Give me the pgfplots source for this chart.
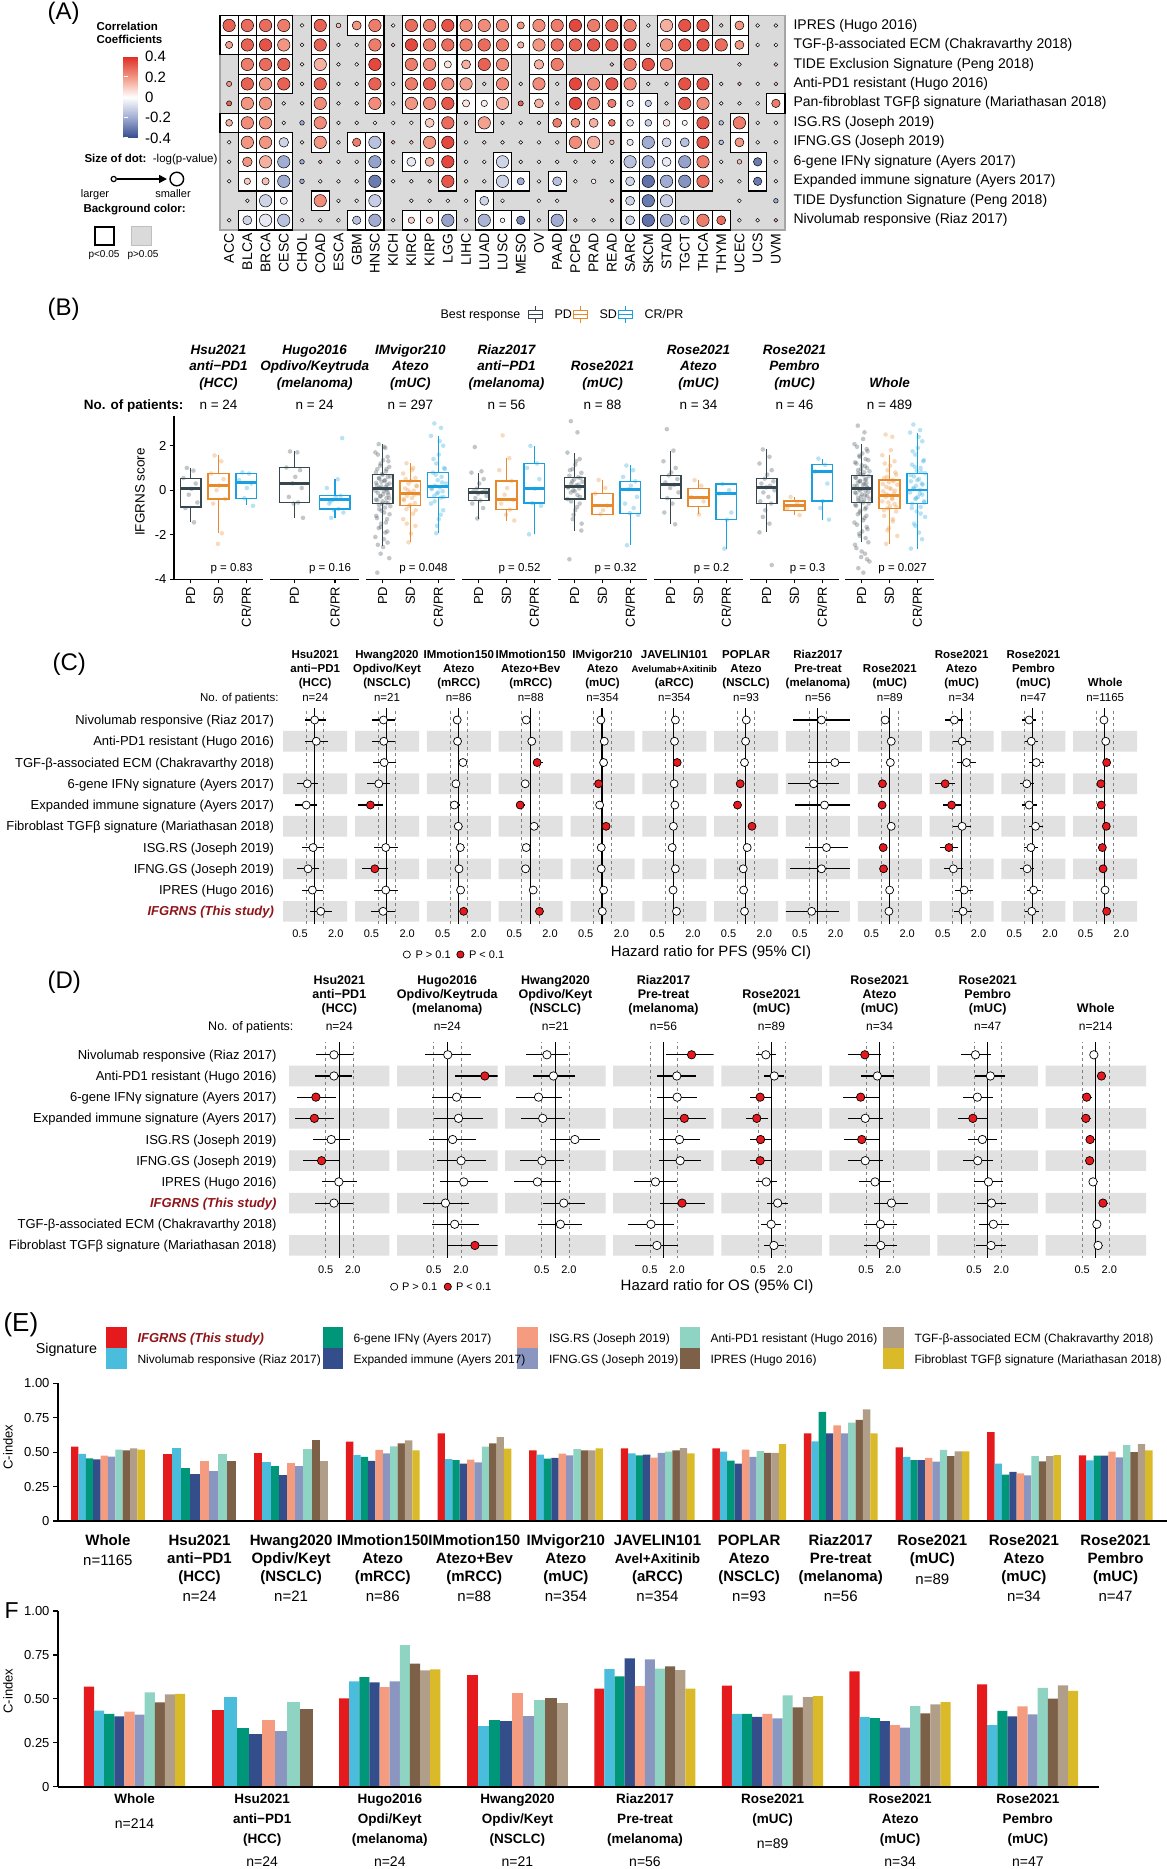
\documentclass[border=0pt]{standalone}
\usepackage{fontspec}
\setmainfont{Liberation Sans}
\usepackage{pgfplots}
\usepackage{pgfplotstable}
\pgfplotsset{compat=1.18}
\usepgfplotslibrary{statistics}
\usetikzlibrary{arrows.meta}

\definecolor{hmgray}{RGB}{218,218,218}
\definecolor{hmborder}{RGB}{165,165,165}
\definecolor{pdc}{RGB}{55,71,79}
\definecolor{sdc}{RGB}{232,137,44}
\definecolor{crc}{RGB}{26,160,222}
\definecolor{band}{RGB}{225,225,225}
\definecolor{hrred}{RGB}{230,25,30}
\definecolor{dred}{RGB}{145,20,25}
\definecolor{cA}{RGB}{228,26,28}
\definecolor{cB}{RGB}{74,188,220}
\definecolor{cC}{RGB}{0,150,122}
\definecolor{cD}{RGB}{52,78,140}
\definecolor{cE}{RGB}{245,156,128}
\definecolor{cF}{RGB}{138,150,192}
\definecolor{cG}{RGB}{143,212,194}
\definecolor{cH}{RGB}{125,96,72}
\definecolor{cI}{RGB}{176,158,136}
\definecolor{cJ}{RGB}{218,186,40}

\newcommand\fs[2]{\fontsize{#1}{#2}\selectfont}

\pgfplotsset{
  bfacet/.style={anchor=south west, scale only axis, width=89pt, height=163.7pt,
    ymin=-4, ymax=3.35, axis x line*=bottom,
    axis line style={line width=1.2pt}, tick align=outside, major tick length=4pt,
    tick style={line width=1.2pt, black},
    xticklabel style={rotate=90, anchor=east, font=\fs{13}{15}},
    clip=false, axis on top},
  bfirst/.style={bfacet, axis y line*=left, ytick={-4,-2,0,2}, yticklabels={-4,-2,0,2},
    yticklabel style={font=\fs{13}{15}}},
  bother/.style={bfacet, axis y line=none, ytick=\empty},
  cfacet/.style={anchor=south west, scale only axis, width=64pt, height=214.7pt,
    xmin=-1.76, xmax=1.82, ymin=0.45, ymax=10.55, y dir=reverse,
    axis line style={draw=none}, major tick length=0pt, ytick=\empty,
    xticklabels={0.5,2.0}, xticklabel style={font=\fs{11}{13}, yshift=-3pt}},
  dfacet/.style={anchor=south west, scale only axis, width=100.5pt, height=214.8pt,
    xmin=-3.7, xmax=3.7, ymin=0.43, ymax=10.57, y dir=reverse,
    axis line style={draw=none}, major tick length=0pt, ytick=\empty,
    xtick={-1,1}, xticklabels={0.5,2.0}, xticklabel style={font=\fs{11}{13}, yshift=-5pt}},
  hrmark/.style={scatter, only marks, mark=*, mark size=#1,
    scatter src=explicit symbolic,
    scatter/classes={w={draw=black, fill=white}, r={draw=black, fill=hrred}},
    mark options={line width=0.7pt},
    error bars/x dir=both, error bars/x explicit, error bars/error mark=none,
    error bars/error bar style={black, line width=1.1pt}},
}

% box plot from its five numbers
\newcommand\Bbox[7]{\addplot[draw=#1, line width=1.3pt, solid,
  boxplot prepared={draw direction=y, draw position=#2, lower whisker=#3, lower quartile=#4,
  median=#5, upper quartile=#6, upper whisker=#7, box extend=0.75,
  whisker extend=0, every median/.style={line width=2.8pt}}] coordinates {};}
\newcommand\Bpts[2]{\addplot[only marks, mark=*, mark size=2.3pt,
  mark options={fill=#1, fill opacity=0.3, draw opacity=0}] coordinates {#2};}
\newcommand\Hdr[7]{\node[anchor=base,font=#4] at (#1,-#2) {#5};
  \node[anchor=base,font=#4] at (#1,{-#2-#3}) {#6};
  \node[anchor=base,font=#4] at (#1,{-#2-2*#3}) {#7};}
\newcommand\Cfac[3]{%
\begin{axis}[cfacet, at={(#1pt,-923pt)}, xtick={#2}]
\addplot[xbar, bar width=0.97, bar shift=0pt, fill=band, draw=none] coordinates
  {(9,2) (9,4) (9,6) (9,8) (9,10) (-9,2) (-9,4) (-9,6) (-9,8) (-9,10)};
\addplot[gray, dashed, line width=0.6pt] coordinates {(-0.47,0) (-0.47,11)};
\addplot[gray, dashed, line width=0.6pt] coordinates {(0.51,0) (0.51,11)};
\addplot[black, line width=1.1pt] coordinates {(0,0) (0,11)};
\addplot[hrmark=4pt] table[row sep=\\, x=x, y=r, meta=p,
  x error plus expr=\thisrow{hi}-\thisrow{x},
  x error minus expr=\thisrow{x}-\thisrow{lo}] {#3};
\end{axis}}
\newcommand\Dfac[2]{%
\begin{axis}[dfacet, at={(#1pt,-1257.5pt)}]
\addplot[xbar, bar width=0.97, bar shift=0pt, fill=band, draw=none] coordinates
  {(9,2) (9,4) (9,6) (9,8) (9,10) (-9,2) (-9,4) (-9,6) (-9,8) (-9,10)};
\addplot[gray, dashed, line width=0.6pt] coordinates {(-1,0) (-1,11)};
\addplot[gray, dashed, line width=0.6pt] coordinates {(1,0) (1,11)};
\addplot[black, line width=1.1pt] coordinates {(0,0) (0,11)};
\addplot[hrmark=4.2pt] table[row sep=\\, x=x, y=r, meta=p,
  x error plus expr=\thisrow{hi}-\thisrow{x},
  x error minus expr=\thisrow{x}-\thisrow{lo}] {#2};
\end{axis}}
\newcommand\Bars[3]{\addplot[ybar, bar width=#1, bar shift=0pt, fill=#2, draw=none] coordinates {#3};}
\newcommand\Tb[3]{\node[anchor=base,font=\bfseries\fs{15}{17}] at (#1,-#2) {#3};}
\newcommand\Tn[3]{\node[anchor=base,font=\fs{15}{17}] at (#1,-#2) {#3};}
\newcommand\Fb[3]{\node[anchor=base,font=\bfseries\fs{13.5}{16}] at (#1,-#2) {#3};}
\newcommand\Fn[3]{\node[anchor=base,font=\fs{14}{16}] at (#1,-#2) {#3};}

% correlation of each signature with each cancer type: c r value dotsize box(p<0.05)
\pgfplotstableread[row sep=\\]{
c r v s b\\
1 11 0.30 6.2 1\\ 2 11 0.28 6.2 1\\ 3 11 0.28 6.2 1\\ 4 11 0.25 6.2 1\\ 5 11 0.02 1.9 0\\ 6 11 0.30 6.2 1\\ 7 11 0.12 2.3 0\\ 8 11 0.20 4.5 1\\ 9 11 0.25 6.2 1\\ 10 11 0.02 1.9 0\\
11 11 0.28 6.2 1\\ 12 11 0.25 6.2 1\\ 13 11 0.33 6.2 1\\ 14 11 0.22 6.2 1\\ 15 11 0.22 6.2 1\\ 16 11 0.22 6.2 1\\ 17 11 0.20 3.6 1\\ 18 11 0.22 6.2 1\\ 19 11 0.25 6.2 1\\ 20 11 0.35 6.2 1\\
21 11 0.25 6.2 1\\ 22 11 0.30 6.2 1\\ 23 11 0.25 6.2 1\\ 24 11 0.02 1.9 0\\ 25 11 0.15 6.2 1\\ 26 11 0.33 6.2 1\\ 27 11 0.33 6.2 1\\ 28 11 0.08 1.9 0\\ 29 11 0.20 4.5 1\\ 30 11 0.03 1.9 0\\ 31 11 0.03 1.9 0\\
1 10 0.18 3.6 1\\ 2 10 0.30 6.2 1\\ 3 10 0.33 6.2 1\\ 4 10 0.20 6.2 1\\ 5 10 0.02 1.9 0\\ 6 10 0.30 6.2 1\\ 7 10 0.03 1.9 0\\ 8 10 0.03 1.9 0\\ 9 10 0.25 6.2 1\\ 10 10 0.10 1.9 0\\
11 10 0.35 6.2 1\\ 12 10 0.25 6.2 1\\ 13 10 0.28 6.2 1\\ 14 10 0.25 6.2 1\\ 15 10 0.28 6.2 1\\ 16 10 0.25 6.2 1\\ 17 10 0.15 3.2 1\\ 18 10 0.20 6.2 1\\ 19 10 0.28 6.2 1\\ 20 10 0.30 6.2 1\\
21 10 0.32 6.2 1\\ 22 10 0.30 6.2 1\\ 23 10 0.30 6.2 1\\ 24 10 0.02 1.9 0\\ 25 10 0.20 6.2 1\\ 26 10 0.33 6.2 1\\ 27 10 0.33 6.2 1\\ 28 10 0.28 6.2 1\\ 29 10 0.20 4.5 1\\ 30 10 0.02 1.9 0\\ 31 10 0.02 1.9 0\\
2 9 0.25 6.2 1\\ 3 9 0.28 6.2 1\\ 4 9 0.30 6.2 1\\ 5 9 0.02 1.9 0\\ 6 9 0.15 6.2 1\\ 7 9 0.02 1.9 0\\ 8 9 0.02 1.9 0\\ 9 9 0.35 6.2 1\\
11 9 0.25 6.2 1\\ 12 9 0.22 6.2 1\\ 13 9 0.05 3.6 1\\ 14 9 0.15 4.5 1\\ 15 9 0.30 6.2 1\\ 16 9 0.22 6.2 1\\ 18 9 0.15 4.8 1\\ 19 9 0.25 6.2 1\\
22 9 0.12 1.9 0\\ 23 9 0.25 6.2 1\\ 24 9 0.33 6.2 1\\ 25 9 0.22 6.2 1\\ 29 9 0.05 1.9 0\\ 31 9 0.12 1.9 0\\
1 8 0.20 2.6 0\\ 2 8 0.30 6.2 1\\ 3 8 0.20 6.2 1\\ 4 8 0.30 6.2 1\\ 5 8 0.02 1.9 0\\ 6 8 0.30 6.2 1\\ 7 8 0.02 1.9 0\\ 8 8 0.02 1.9 0\\ 9 8 0.30 6.2 1\\ 10 8 0.02 1.9 0\\
11 8 0.25 6.2 1\\ 12 8 0.30 6.2 1\\ 13 8 0.22 6.2 1\\ 14 8 0.18 6.2 1\\ 15 8 0.03 1.9 0\\ 16 8 0.22 6.2 1\\ 17 8 0.03 1.9 0\\ 18 8 0.22 6.2 1\\ 19 8 0.03 1.9 0\\ 20 8 0.35 6.2 1\\
21 8 0.22 6.2 1\\ 22 8 0.32 6.2 1\\ 23 8 0.22 6.2 1\\ 24 8 0.02 1.9 0\\ 25 8 0.02 1.9 0\\ 26 8 0.33 6.2 1\\ 27 8 0.33 6.2 1\\ 28 8 0.03 1.9 0\\ 29 8 0.12 1.9 0\\ 30 8 0.02 1.9 0\\ 31 8 0.12 1.9 0\\
1 7 0.30 2.6 0\\ 2 7 0.20 6.2 1\\ 3 7 0.20 6.2 1\\ 4 7 0.02 1.9 0\\ 5 7 0.02 1.9 0\\ 6 7 0.22 6.2 1\\ 7 7 0.02 1.9 0\\ 8 7 0.02 1.9 0\\ 9 7 0.22 6.2 1\\ 10 7 0.02 1.9 0\\
11 7 0.20 6.2 1\\ 12 7 0.22 6.2 1\\ 13 7 0.32 6.2 1\\ 14 7 0.05 3.6 1\\ 15 7 0.03 3.2 1\\ 16 7 0.15 6.2 1\\ 17 7 0.30 2.6 0\\ 18 7 0.15 4.5 1\\ 19 7 0.02 1.9 0\\ 20 7 0.35 6.2 1\\
21 7 0.22 6.2 1\\ 22 7 0.25 4.2 1\\ 23 7 -0.05 3.2 1\\ 24 7 -0.12 3.2 1\\ 25 7 0.03 1.9 0\\ 26 7 0.32 6.2 1\\ 27 7 0.22 6.2 1\\ 28 7 0.02 1.9 0\\ 29 7 0.02 1.9 0\\ 30 7 0.02 1.9 0\\ 31 7 0.25 4.2 1\\
1 6 0.15 3.4 1\\ 2 6 0.22 6.2 1\\ 3 6 0.20 6.2 1\\ 4 6 0.02 1.9 0\\ 5 6 -0.20 2.3 0\\ 6 6 0.22 6.2 1\\ 7 6 0.02 1.9 0\\ 8 6 0.02 1.9 0\\ 9 6 0.02 1.9 0\\ 10 6 0.03 1.9 0\\
11 6 0.02 1.9 0\\ 12 6 0.10 4.5 1\\ 13 6 0.28 6.2 1\\ 14 6 0.02 1.9 0\\ 15 6 0.18 6.2 1\\ 16 6 0.02 1.9 0\\ 17 6 0.02 1.9 0\\ 18 6 0.02 1.9 0\\ 19 6 0.25 4.5 1\\ 20 6 0.20 4.5 1\\
21 6 0.15 4.5 1\\ 22 6 0.25 3.4 1\\ 23 6 -0.05 3.4 1\\ 24 6 -0.12 3.4 1\\ 25 6 0.05 3.4 1\\ 26 6 0.02 2.6 1\\ 27 6 0.32 6.2 1\\ 28 6 -0.15 2.3 0\\ 29 6 0.25 6.2 1\\ 30 6 0.02 1.9 0\\ 31 6 0.02 1.9 0\\
1 5 0.02 1.9 0\\ 2 5 0.20 6.2 1\\ 3 5 0.20 6.2 1\\ 4 5 -0.10 4.8 1\\ 5 5 0.02 1.9 0\\ 6 5 0.20 6.2 1\\ 7 5 0.02 1.9 0\\ 8 5 0.25 4.2 1\\ 9 5 -0.15 6.2 1\\ 10 5 0.12 1.9 0\\
11 5 0.10 1.9 0\\ 12 5 0.20 6.2 1\\ 13 5 0.35 6.2 1\\ 14 5 0.02 1.9 0\\ 15 5 0.02 1.9 0\\ 16 5 0.02 1.9 0\\ 17 5 0.02 1.9 0\\ 18 5 0.02 1.9 0\\ 19 5 0.02 1.9 0\\ 20 5 0.22 6.2 1\\
21 5 0.15 6.2 1\\ 22 5 0.12 2.3 0\\ 23 5 -0.05 3.2 1\\ 24 5 -0.20 6.2 1\\ 25 5 -0.10 4.5 1\\ 26 5 -0.15 4.5 1\\ 27 5 0.33 6.2 1\\ 28 5 -0.15 2.3 0\\ 29 5 0.20 4.5 1\\ 30 5 0.02 1.9 0\\ 31 5 0.02 1.9 0\\
1 4 0.02 1.9 0\\ 2 4 0.20 4.8 1\\ 3 4 0.15 6.2 1\\ 4 4 -0.20 6.2 1\\ 5 4 -0.20 2.3 0\\ 6 4 0.10 1.9 0\\ 7 4 0.02 1.9 0\\ 8 4 0.02 1.9 0\\ 9 4 -0.22 6.2 1\\ 10 4 0.02 1.9 0\\
11 4 -0.05 4.5 1\\ 12 4 0.15 4.5 1\\ 13 4 0.35 6.2 1\\ 14 4 0.02 1.9 0\\ 15 4 0.02 1.9 0\\ 16 4 -0.10 6.2 1\\ 17 4 0.02 1.9 0\\ 18 4 0.02 1.9 0\\ 19 4 0.02 1.9 0\\ 20 4 0.02 1.9 0\\
21 4 0.02 1.9 0\\ 22 4 0.02 1.9 0\\ 23 4 -0.15 6.2 1\\ 24 4 -0.20 6.2 1\\ 25 4 -0.05 4.5 1\\ 26 4 -0.22 6.2 1\\ 27 4 0.25 6.2 1\\ 28 4 0.02 1.9 0\\ 29 4 0.12 2.3 0\\ 30 4 -0.30 4.2 1\\ 31 4 0.02 1.9 0\\
1 3 0.02 1.9 0\\ 2 3 0.10 3.2 1\\ 3 3 0.12 3.6 1\\ 4 3 -0.20 6.2 1\\ 5 3 -0.20 2.3 0\\ 6 3 0.02 1.9 0\\ 7 3 0.02 1.9 0\\ 8 3 0.02 1.9 0\\ 9 3 -0.30 6.2 1\\ 10 3 0.02 1.9 0\\
11 3 0.02 1.9 0\\ 12 3 0.08 1.9 0\\ 13 3 0.32 6.2 1\\ 14 3 0.02 1.9 0\\ 15 3 0.02 1.9 0\\ 16 3 -0.10 6.2 1\\ 17 3 -0.20 3.6 1\\ 18 3 0.02 1.9 0\\ 19 3 -0.15 4.5 1\\ 20 3 0.02 1.9 0\\
21 3 0.03 2.3 0\\ 22 3 0.02 1.9 0\\ 23 3 -0.10 4.5 1\\ 24 3 -0.32 6.2 1\\ 25 3 -0.20 6.2 1\\ 26 3 -0.25 6.2 1\\ 27 3 0.28 6.2 1\\ 28 3 0.02 1.9 0\\ 29 3 0.02 1.9 0\\ 30 3 -0.30 4.2 1\\ 31 3 0.02 1.9 0\\
2 2 0.03 1.9 0\\ 3 2 -0.10 6.2 1\\ 4 2 -0.05 3.6 1\\ 6 2 0.22 6.2 1\\ 7 2 0.02 1.9 0\\ 8 2 0.02 1.9 0\\ 9 2 -0.12 6.2 1\\
11 2 0.02 1.9 0\\ 12 2 0.02 1.9 0\\ 13 2 0.02 1.9 0\\ 14 2 0.02 1.9 0\\ 15 2 -0.10 4.5 1\\ 16 2 0.02 1.9 0\\ 18 2 0.02 1.9 0\\ 19 2 0.02 1.9 0\\
22 2 0.12 1.9 0\\ 23 2 -0.10 4.5 1\\ 24 2 -0.30 6.2 1\\ 25 2 -0.12 6.2 1\\ 29 2 0.02 1.9 0\\ 31 2 -0.20 2.3 0\\
1 1 0.02 1.9 0\\ 2 1 -0.10 4.5 1\\ 3 1 -0.05 6.2 1\\ 4 1 -0.15 6.2 1\\ 5 1 0.02 1.9 0\\ 6 1 0.02 1.9 0\\ 7 1 0.02 1.9 0\\ 8 1 -0.15 4.2 1\\ 9 1 -0.20 6.2 1\\ 10 1 0.02 1.9 0\\
11 1 0.08 3.2 1\\ 12 1 0.08 3.2 1\\ 13 1 -0.22 6.2 1\\ 14 1 0.02 1.9 0\\ 15 1 -0.18 6.2 1\\ 16 1 0.02 2.3 1\\ 17 1 -0.28 4.2 1\\ 18 1 0.02 1.9 0\\ 19 1 -0.20 6.2 1\\ 20 1 0.08 1.9 0\\
21 1 0.02 1.9 0\\ 22 1 0.02 1.9 0\\ 23 1 -0.10 4.5 1\\ 24 1 -0.32 6.2 1\\ 25 1 -0.20 6.2 1\\ 26 1 -0.15 4.5 1\\ 27 1 0.25 6.2 1\\ 28 1 0.28 4.5 1\\ 29 1 0.02 1.9 0\\ 30 1 0.02 1.9 0\\ 31 1 0.12 1.9 0\\
}\heat

\begin{document}
\begin{tikzpicture}[x=1pt,y=1pt]
\useasboundingbox (0,0) rectangle (1167,-1869);

%================ (A) =================
\node[anchor=base west, font=\fs{24}{28}] at (44,-19) {(A)};
\node[anchor=base west, font=\bfseries\fs{11.5}{13}] at (93,-30) {Correlation};
\node[anchor=base west, font=\bfseries\fs{11.5}{13}] at (93,-43) {Coefficients};
\node[anchor=base west, font=\fs{11.5}{13}] at (81,-162) {\textbf{Size of dot:}\ \ -log(p-value)};
\draw[line width=1.6pt, -{Triangle[length=8pt,width=8pt]}] (117,-179) -- (167,-179);
\draw[line width=1.2pt] (113.7,-179) circle (2.6);
\draw[line width=1.4pt] (176.8,-179) circle (6.8);
\node[anchor=base, font=\fs{11}{13}] at (95,-197) {larger};
\node[anchor=base, font=\fs{11}{13}] at (173,-197) {smaller};
\node[anchor=base west, font=\bfseries\fs{11.5}{13}] at (80,-212) {Background color:};
\draw[line width=2pt, fill=white] (95,-227) rectangle (114,-245);
\filldraw[fill=hmgray, draw=black!25] (131,-226) rectangle (151,-245);
\node[anchor=base, font=\fs{10}{12}] at (104,-257) {p<0.05};
\node[anchor=base, font=\fs{10}{12}] at (143,-257) {p>0.05};

\begin{axis}[at={(220pt,-230pt)}, anchor=south west, scale only axis,
  width=565pt, height=214.3pt, xmin=0.5, xmax=31.5, ymin=0.5, ymax=11.5,
  axis background/.style={fill=hmgray},
  axis line style={draw=hmborder, line width=1.5pt}, clip=false,
  xtick={1,...,31},
  xticklabels={ACC,BLCA,BRCA,CESC,CHOL,COAD,ESCA,GBM,HNSC,KICH,KIRC,KIRP,LGG,LIHC,LUAD,LUSC,MESO,OV,PAAD,PCPG,PRAD,READ,SARC,SKCM,STAD,TGCT,THCA,THYM,UCEC,UCS,UVM},
  xticklabel style={rotate=90, anchor=east, font=\fs{14}{16}},
  ytick={1,...,11},
  yticklabels={Nivolumab responsive (Riaz 2017),TIDE Dysfunction Signature (Peng 2018),Expanded immune signature (Ayers 2017),6-gene IFNγ signature (Ayers 2017),IFNG.GS (Joseph 2019),ISG.RS (Joseph 2019),Pan-fibroblast TGFβ signature (Mariathasan 2018),Anti-PD1 resistant (Hugo 2016),TIDE Exclusion Signature (Peng 2018),TGF-β-associated ECM (Chakravarthy 2018),IPRES (Hugo 2016)},
  yticklabel pos=right, yticklabel style={anchor=west, xshift=5pt, font=\fs{14}{16}},
  major tick length=0pt,
  colormap={hm}{rgb255(0cm)=(52,74,140); rgb255(1cm)=(160,172,210); rgb255(2cm)=(255,255,255); rgb255(3cm)=(242,150,130); rgb255(4cm)=(222,45,38)},
  point meta min=-0.4, point meta max=0.4,
  colorbar,
  colorbar style={at={(parent axis.north west)}, anchor=north west,
    xshift=-105pt, yshift=-40.8pt, width=18pt, height=81.5pt,
    ytick={-0.4,-0.2,0,0.2,0.4}, yticklabels={-0.4,-0.2,0,0.2,0.4},
    yticklabel pos=right, yticklabel style={font=\fs{15}{17}, anchor=west, xshift=0pt},
    xtick=\empty, major tick length=4pt, tick align=inside,
    tick style={white, line width=1pt}, axis line style={draw=none}}
]
\addplot[only marks, mark=square*, mark size=9.1pt,
  mark options={fill=white, draw=black, line width=1.1pt, yscale=1.071},
  y filter/.expression={\thisrow{b}>0.5 ? y : nan}] table[x=c, y=r] {\heat};
\addplot[scatter, only marks, mark=*, point meta=explicit,
  scatter/use mapped color={draw=black, fill=mapped color},
  visualization depends on={\thisrow{s} \as \dsz},
  scatter/@pre marker code/.append style={/tikz/mark size=\dsz},
  mark options={line width=0.5pt}] table[x=c, y=r, meta=v] {\heat};
\end{axis}

%================ (B) =================
\node[anchor=base west, font=\fs{24}{28}] at (44,-315) {(B)};
\node[anchor=base west, font=\fs{12.5}{15}] at (437,-318.5) {Best response};
\foreach \cx/\cc in {535.5/pdc, 580.5/sdc, 625.6/crc} {
  \draw[\cc, line width=1.2pt] (\cx,-306) -- (\cx,-310.5) (\cx,-318.5) -- (\cx,-323);
  \draw[\cc, line width=1.2pt, fill=white] ({\cx-7},-310.5) rectangle ({\cx+7},-318.5);
  \draw[\cc, line width=1.2pt] ({\cx-7},-314.5) -- ({\cx+7},-314.5);
}
\node[anchor=base west, font=\fs{12.5}{15}] at (551,-318.5) {PD};
\node[anchor=base west, font=\fs{12.5}{15}] at (596,-318.5) {SD};
\node[anchor=base west, font=\fs{12.5}{15}] at (641,-318.5) {CR/PR};
\Hdr{218.5}{354.5}{16.3}{\bfseries\itshape\fs{13.5}{16}}{Hsu2021}{anti−PD1}{(HCC)}
\Hdr{314.7}{354.5}{16.3}{\bfseries\itshape\fs{13.5}{16}}{Hugo2016}{Opdivo/Keytruda}{(melanoma)}
\Hdr{410.4}{354.5}{16.3}{\bfseries\itshape\fs{13.5}{16}}{IMvigor210}{Atezo}{(mUC)}
\Hdr{506.5}{354.5}{16.3}{\bfseries\itshape\fs{13.5}{16}}{Riaz2017}{anti−PD1}{(melanoma)}
\Hdr{602.5}{354.5}{16.3}{\bfseries\itshape\fs{13.5}{16}}{}{Rose2021}{(mUC)}
\Hdr{698.5}{354.5}{16.3}{\bfseries\itshape\fs{13.5}{16}}{Rose2021}{Atezo}{(mUC)}
\Hdr{794.5}{354.5}{16.3}{\bfseries\itshape\fs{13.5}{16}}{Rose2021}{Pembro}{(mUC)}
\Hdr{889.5}{354.5}{16.3}{\bfseries\itshape\fs{13.5}{16}}{}{}{Whole}
\node[anchor=base east, font=\bfseries\fs{13.5}{16}] at (187,-409.5) {No. of patients:};
\foreach \cx/\nn in {218.5/24, 314.7/24, 410.4/297, 506.5/56, 602.5/88, 698.5/34, 794.5/46, 889.5/489}
  \node[anchor=base, font=\fs{13.5}{16}] at (\cx,-409.5) {n = \nn};
\node[rotate=90, font=\fs{13.5}{16}] at (140,-492) {IFGRNS score};

\begin{axis}[bfirst, at={(174pt,-579.3pt)}, xmin=0.4, xmax=3.6, xtick={1,2,3}, xticklabels={PD,SD,CR/PR}]
\Bpts{pdc}{(0.86,1.0) (1.10,0.88) (0.74,0.55) (1.18,0.3) (1.02,0.06) (0.93,-0.2) (1.24,-0.55) (0.81,-0.8) (1.12,-1.44)}
\Bpts{sdc}{(1.86,1.56) (2.10,1.3) (1.74,0.75) (2.18,0.5) (2.02,0.21) (1.93,0.0) (2.24,-0.39) (1.81,-0.6) (2.12,-1.93) (1.98,-2.41)}
\Bpts{crc}{(2.86,0.8) (3.10,0.75) (2.74,0.45) (3.18,0.3) (3.02,0.1) (2.93,-0.36) (3.24,-0.7)}
\Bbox{pdc}{1}{-1.44}{-0.76}{0.06}{0.54}{1.0}
\Bbox{sdc}{2}{-1.93}{-0.39}{0.21}{0.76}{1.56}
\Bbox{crc}{3}{-0.66}{-0.36}{0.36}{0.76}{0.78}
\node[font=\fs{11.5}{13}] at (axis cs:2.47,-3.52) {p = 0.83};
\end{axis}
\begin{axis}[bother, at={(270.2pt,-579.3pt)}, xmin=0.4, xmax=2.6, xtick={1,2}, xticklabels={PD,CR/PR}]
\Bpts{pdc}{(0.89,1.74) (1.07,1.7) (0.80,1.02) (1.14,0.9) (1.02,0.6) (0.95,0.31) (1.18,0.1) (0.86,-0.3) (1.09,-0.55) (0.98,-0.6) (1.21,-1.24)}
\Bpts{crc}{(2.18,2.34) (2.07,0.49) (1.80,0.1) (2.14,-0.25) (2.02,-0.3) (1.95,-0.43) (1.89,-0.5) (1.86,-0.6) (2.09,-0.84) (1.98,-0.9) (2.21,-1.0) (1.91,-1.24)}
\Bbox{pdc}{1}{-1.24}{-0.55}{0.31}{1.02}{1.74}
\Bbox{crc}{2}{-1.24}{-0.84}{-0.43}{-0.25}{0.49}
\node[font=\fs{11.5}{13}] at (axis cs:1.88,-3.52) {p = 0.16};
\end{axis}
\begin{axis}[bother, at={(365.9pt,-579.3pt)}, xmin=0.4, xmax=3.6, xtick={1,2,3}, xticklabels={PD,SD,CR/PR}]
\Bpts{pdc}{(0.86,2.07) (1.10,1.9) (0.74,1.7) (1.18,1.5) (1.02,1.35) (0.93,1.2) (1.24,1.05) (0.81,0.95) (1.12,0.85) (0.98,0.72) (1.28,0.62) (0.88,0.52) (1.06,0.42) (0.77,0.33) (1.16,0.25) (0.95,0.17)
 (0.86,0.1) (1.10,0.05) (0.74,-0.02) (1.18,-0.1) (1.02,-0.18) (0.93,-0.27) (1.24,-0.36) (0.81,-0.45) (1.12,-0.55) (0.98,-0.61) (1.28,-0.72) (0.88,-0.85) (1.06,-1.0) (0.77,-1.15) (1.16,-1.3) (0.95,-1.5)
 (0.86,-1.7) (1.10,-1.9) (0.74,-2.1) (1.18,-2.35) (1.02,-2.55) (0.93,-2.85) (1.24,-3.05) (0.81,-3.7)}
\Bpts{pdc}{(1.05,1.95) (0.83,1.6) (1.21,1.3) (0.91,1.1) (1.14,0.95) (0.76,0.8) (1.00,0.7) (1.19,0.6) (0.87,0.55) (1.09,0.45) (0.96,0.38) (1.25,0.3) (0.80,0.22) (1.12,0.15) (0.93,0.08) (1.17,0.03)
 (1.05,-0.04) (0.83,-0.12) (1.21,-0.2) (0.91,-0.28) (1.14,-0.35) (0.76,-0.42) (1.00,-0.5) (1.19,-0.58) (0.87,-0.66) (1.09,-0.78) (0.96,-0.92) (1.25,-1.08) (0.80,-1.25) (1.12,-1.45) (0.93,-1.65) (1.17,-1.85)
 (1.05,-2.2) (0.83,-2.45)}
\Bpts{sdc}{(1.86,1.21) (2.10,1.0) (1.74,0.75) (2.18,0.55) (2.02,0.42) (1.93,0.3) (2.24,0.18) (1.81,0.08) (2.12,-0.02) (1.98,-0.1) (2.28,-0.16) (1.88,-0.25) (2.06,-0.35) (1.77,-0.45) (2.16,-0.58) (1.95,-0.7) (1.86,-0.85) (2.10,-1.05) (1.74,-1.3) (2.18,-1.6) (2.02,-1.95) (1.93,-2.34)
 (2.05,0.9) (1.83,0.5) (2.21,0.2) (1.91,0.0) (2.14,-0.2) (1.76,-0.4) (2.00,-0.65) (2.19,-0.9) (1.87,-1.5)}
\Bpts{crc}{(2.86,3.0) (3.10,2.8) (2.74,2.44) (3.18,2.0) (3.02,1.6) (2.93,1.2) (3.24,0.95) (2.81,0.79) (3.12,0.6) (2.98,0.45) (3.28,0.3) (2.88,0.2) (3.06,0.12) (2.77,0.05) (3.16,-0.05) (2.95,-0.15) (2.86,-0.25) (3.10,-0.33) (2.74,-0.6) (3.18,-0.9) (3.02,-1.3) (2.93,-1.93)
 (3.05,2.2) (2.83,1.4) (3.21,1.0) (2.91,0.7) (3.14,0.35) (2.76,0.1) (3.00,-0.1) (3.19,-0.3) (2.87,-0.5) (3.09,-1.1) (2.96,-1.6)}
\Bbox{pdc}{1}{-2.5}{-0.61}{0.07}{0.72}{2.07}
\Bbox{sdc}{2}{-2.34}{-0.70}{-0.16}{0.42}{1.21}
\Bbox{crc}{3}{-1.93}{-0.33}{0.16}{0.79}{2.44}
\node[font=\fs{11.5}{13}] at (axis cs:2.47,-3.52) {p = 0.048};
\end{axis}
\begin{axis}[bother, at={(462pt,-579.3pt)}, xmin=0.4, xmax=3.6, xtick={1,2,3}, xticklabels={PD,SD,CR/PR}]
\Bpts{pdc}{(0.86,1.94) (1.10,0.85) (0.74,0.79) (1.18,0.5) (1.02,0.3) (0.93,0.07) (1.24,0.0) (0.81,-0.05) (1.12,-0.09) (0.98,-0.15) (1.28,-0.25) (0.88,-0.35) (1.06,-0.46) (0.77,-0.6) (1.16,-0.8) (0.95,-1.27)}
\Bpts{sdc}{(1.86,2.46) (2.10,1.44) (1.74,0.9) (2.18,0.42) (2.02,0.1) (1.93,-0.2) (2.24,-0.43) (1.81,-0.6) (2.12,-0.87) (1.98,-1.1) (2.28,-1.36)}
\Bpts{crc}{(2.86,1.99) (3.10,1.2) (2.74,1.0) (3.18,0.5) (3.02,0.07) (2.93,-0.58) (3.24,-0.7) (2.81,-1.98)}
\Bbox{pdc}{1}{-1.27}{-0.46}{-0.09}{0.07}{0.79}
\Bbox{sdc}{2}{-1.36}{-0.87}{-0.43}{0.42}{1.44}
\Bbox{crc}{3}{-1.98}{-0.58}{0.07}{1.20}{1.99}
\node[font=\fs{11.5}{13}] at (axis cs:2.47,-3.52) {p = 0.52};
\end{axis}
\begin{axis}[bother, at={(558pt,-579.3pt)}, xmin=0.4, xmax=3.6, xtick={1,2,3}, xticklabels={PD,SD,CR/PR}]
\Bpts{pdc}{(0.86,3.1) (1.10,2.6) (0.74,1.69) (1.18,1.4) (1.02,1.15) (0.93,0.95) (1.24,0.78) (0.81,0.65) (1.12,0.58) (0.98,0.48) (1.28,0.38) (0.88,0.3) (1.06,0.22) (0.77,0.15) (1.16,0.08) (0.95,0.0) (0.86,-0.1) (1.10,-0.22) (0.74,-0.4) (1.18,-0.6) (1.02,-0.9) (0.93,-1.3) (1.24,-1.81) (0.81,-3.1)
 (1.05,1.3) (0.83,0.9) (1.21,0.55) (0.91,0.4) (1.14,0.25) (0.76,0.12) (1.00,-0.05) (1.19,-0.3) (0.87,-0.5) (1.09,-0.75) (0.96,-1.1) (1.25,-1.5)}
\Bpts{sdc}{(1.86,0.46) (2.10,0.1) (1.74,-0.15) (2.18,-0.69) (2.02,-0.9) (1.93,-1.08)}
\Bpts{crc}{(2.86,1.11) (3.10,0.9) (2.74,0.6) (3.18,0.4) (3.02,0.2) (2.93,0.04) (3.24,-0.3) (2.81,-0.6) (3.12,-0.8) (2.98,-1.03) (3.28,-1.1) (2.88,-2.47)}
\Bbox{pdc}{1}{-1.81}{-0.40}{0.18}{0.58}{1.69}
\Bbox{sdc}{2}{-1.1}{-1.08}{-0.69}{-0.15}{0.46}
\Bbox{crc}{3}{-2.47}{-1.03}{0.04}{0.40}{1.11}
\node[font=\fs{11.5}{13}] at (axis cs:2.47,-3.52) {p = 0.32};
\end{axis}
\begin{axis}[bother, at={(654pt,-579.3pt)}, xmin=0.4, xmax=3.6, xtick={1,2,3}, xticklabels={PD,SD,CR/PR}]
\Bpts{pdc}{(0.86,2.74) (1.10,1.78) (0.74,1.3) (1.18,1.0) (1.02,0.8) (0.93,0.67) (1.24,0.5) (0.81,0.35) (1.12,0.24) (0.98,0.1) (1.28,-0.1) (0.88,-0.36) (1.06,-0.6) (0.77,-1.0) (1.16,-1.53)}
\Bpts{sdc}{(1.86,0.45) (2.10,0.2) (1.74,-0.31) (2.18,-0.5) (2.02,-1.09)}
\Bpts{crc}{(2.86,0.28) (3.10,0.0) (2.74,-0.15) (3.18,-1.0) (3.02,-1.33) (2.93,-2.62)}
\Bbox{pdc}{1}{-1.53}{-0.36}{0.24}{0.67}{1.78}
\Bbox{sdc}{2}{-1.09}{-0.72}{-0.31}{0.07}{0.45}
\Bbox{crc}{3}{-2.62}{-1.33}{-0.15}{0.28}{0.28}
\node[font=\fs{11.5}{13}] at (axis cs:2.47,-3.52) {p = 0.2};
\end{axis}
\begin{axis}[bother, at={(750pt,-579.3pt)}, xmin=0.4, xmax=3.6, xtick={1,2,3}, xticklabels={PD,SD,CR/PR}]
\Bpts{pdc}{(0.86,1.83) (1.10,1.5) (0.74,1.2) (1.18,0.9) (1.02,0.7) (0.93,0.52) (1.24,0.4) (0.81,0.3) (1.12,0.2) (0.98,0.13) (1.28,0.0) (0.88,-0.1) (1.06,-0.3) (0.77,-0.5) (1.16,-0.6) (0.95,-0.9) (0.86,-1.2) (1.10,-1.5) (0.74,-1.89) (1.18,-3.36)}
\Bpts{sdc}{(1.86,-0.3) (2.10,-0.6) (1.74,-0.8) (2.18,-1.12)}
\Bpts{crc}{(2.86,1.42) (3.10,1.14) (2.74,0.84) (3.18,0.3) (3.02,-0.49) (2.93,-0.8) (3.24,-1.32)}
\Bbox{pdc}{1}{-1.89}{-0.60}{0.13}{0.52}{1.83}
\Bbox{sdc}{2}{-1.12}{-0.90}{-0.69}{-0.48}{-0.30}
\Bbox{crc}{3}{-1.32}{-0.49}{0.84}{1.14}{1.42}
\node[font=\fs{11.5}{13}] at (axis cs:2.47,-3.52) {p = 0.3};
\end{axis}
\begin{axis}[bother, at={(845pt,-579.3pt)}, xmin=0.4, xmax=3.6, xtick={1,2,3}, xticklabels={PD,SD,CR/PR}]
\Bpts{pdc}{(0.86,2.9) (1.10,2.6) (0.74,2.07) (1.18,1.85) (1.02,1.65) (0.93,1.5) (1.24,1.35) (0.81,1.2) (1.12,1.08) (0.98,0.95) (1.28,0.85) (0.88,0.75) (1.06,0.67) (0.77,0.58) (1.16,0.5) (0.95,0.42)
 (0.86,0.35) (1.10,0.28) (0.74,0.2) (1.18,0.14) (1.02,0.07) (0.93,0.0) (1.24,-0.07) (0.81,-0.14) (1.12,-0.22) (0.98,-0.3) (1.28,-0.38) (0.88,-0.46) (1.06,-0.55) (0.77,-0.65) (1.16,-0.78) (0.95,-0.92)
 (0.86,-1.08) (1.10,-1.25) (0.74,-1.45) (1.18,-1.65) (1.02,-1.85) (0.93,-2.05) (1.24,-2.34) (0.81,-2.6) (1.12,-2.85) (0.98,-3.0) (1.28,-3.2) (0.88,-3.5) (1.06,-3.7)}
\Bpts{pdc}{(1.05,2.3) (0.83,1.95) (1.21,1.75) (0.91,1.55) (1.14,1.4) (0.76,1.25) (1.00,1.12) (1.19,1.0) (0.87,0.9) (1.09,0.8) (0.96,0.72) (1.25,0.63) (0.80,0.55) (1.12,0.47) (0.93,0.4) (1.17,0.32)
 (1.05,0.25) (0.83,0.18) (1.21,0.11) (0.91,0.04) (1.14,-0.03) (0.76,-0.1) (1.00,-0.18) (1.19,-0.26) (0.87,-0.34) (1.09,-0.42) (0.96,-0.5) (1.25,-0.6) (0.80,-0.7) (1.12,-0.85) (0.93,-1.0) (1.17,-1.15)
 (1.05,-1.35) (0.83,-1.55) (1.21,-1.75) (0.91,-1.95) (1.14,-2.15) (0.76,-2.45) (1.00,-2.75) (1.19,-3.1)}
\Bpts{sdc}{(1.86,2.5) (2.10,2.4) (1.74,1.57) (2.18,1.3) (2.02,1.1) (1.93,0.9) (2.24,0.7) (1.81,0.55) (2.12,0.46) (1.98,0.35) (2.28,0.25) (1.88,0.15) (2.06,0.05) (1.77,-0.05) (2.16,-0.15) (1.95,-0.22) (1.86,-0.3) (2.10,-0.4) (1.74,-0.5) (2.18,-0.62) (2.02,-0.72) (1.93,-0.81) (2.24,-0.95) (1.81,-1.15) (2.12,-1.4) (1.98,-1.7) (2.28,-2.05) (1.88,-2.41)
 (2.05,1.8) (1.83,1.2) (2.21,0.8) (1.91,0.6) (2.14,0.4) (1.76,0.28) (2.00,0.1) (2.19,-0.02) (1.87,-0.18) (2.09,-0.35) (1.96,-0.55) (2.25,-0.75) (1.80,-0.9) (2.12,-1.3) (1.93,-1.8)}
\Bpts{crc}{(2.86,2.95) (3.10,2.7) (2.74,2.59) (3.18,2.2) (3.02,1.9) (2.93,1.6) (3.24,1.35) (2.81,1.15) (3.12,1.0) (2.98,0.88) (3.28,0.76) (2.88,0.62) (3.06,0.5) (2.77,0.4) (3.16,0.3) (2.95,0.2) (2.86,0.1) (3.10,0.01) (2.74,-0.1) (3.18,-0.2) (3.02,-0.3) (2.93,-0.4) (3.24,-0.5) (2.81,-0.61) (3.12,-0.75) (2.98,-0.95) (3.28,-1.2) (2.88,-1.5) (3.06,-1.9) (2.77,-2.62)
 (3.05,2.4) (2.83,1.75) (3.21,1.3) (2.91,1.05) (3.14,0.82) (2.76,0.68) (3.00,0.45) (3.19,0.25) (2.87,0.05) (3.09,-0.15) (2.96,-0.35) (3.25,-0.55) (2.80,-0.8) (3.12,-1.05) (2.93,-1.6) (3.17,-2.2)}
\Bbox{pdc}{1}{-2.34}{-0.55}{0.07}{0.67}{2.07}
\Bbox{sdc}{2}{-2.41}{-0.81}{-0.22}{0.46}{1.57}
\Bbox{crc}{3}{-2.62}{-0.61}{0.01}{0.76}{2.59}
\node[font=\fs{11.5}{13}] at (axis cs:2.47,-3.52) {p = 0.027};
\end{axis}

%================ (C) =================
\node[anchor=base west, font=\fs{24}{28}] at (49,-670) {(C)};
\Hdr{315.2}{658}{14}{\bfseries\fs{11.5}{13}}{Hsu2021}{anti−PD1}{(HCC)}
\Hdr{387.0}{658}{14}{\bfseries\fs{11.5}{13}}{Hwang2020}{Opdivo/Keyt}{(NSCLC)}
\Hdr{458.8}{658}{14}{\bfseries\fs{11.5}{13}}{IMmotion150}{Atezo}{(mRCC)}
\Hdr{530.7}{658}{14}{\bfseries\fs{11.5}{13}}{IMmotion150}{Atezo+Bev}{(mRCC)}
\Hdr{602.5}{658}{14}{\bfseries\fs{11.5}{13}}{IMvigor210}{Atezo}{(mUC)}
\Hdr{674.3}{658}{14}{\bfseries\fs{11.5}{13}}{JAVELIN101}{\fs{9.5}{11}Avelumab+Axitinib}{(aRCC)}
\Hdr{746.1}{658}{14}{\bfseries\fs{11.5}{13}}{POPLAR}{Atezo}{(NSCLC)}
\Hdr{818.0}{658}{14}{\bfseries\fs{11.5}{13}}{Riaz2017}{Pre-treat}{(melanoma)}
\Hdr{889.8}{658}{14}{\bfseries\fs{11.5}{13}}{}{Rose2021}{(mUC)}
\Hdr{961.6}{658}{14}{\bfseries\fs{11.5}{13}}{Rose2021}{Atezo}{(mUC)}
\Hdr{1033.4}{658}{14}{\bfseries\fs{11.5}{13}}{Rose2021}{Pembro}{(mUC)}
\Hdr{1105.2}{658}{14}{\bfseries\fs{11.5}{13}}{}{}{Whole}
\node[anchor=base east, font=\fs{11.5}{13}] at (282,-701) {No. of patients:};
\foreach \cx/\nn in {315.2/24, 387.0/21, 458.8/86, 530.7/88, 602.5/354, 674.3/354, 746.1/93, 818.0/56, 889.8/89, 961.6/34, 1033.4/47, 1105.2/1165}
  \node[anchor=base, font=\fs{11.5}{13}] at (\cx,-701) {n=\nn};
\node[anchor=base east, font=\fs{13}{15}] at (277.5,-724.6) {Nivolumab responsive (Riaz 2017)};
\node[anchor=base east, font=\fs{13}{15}] at (277.5,-745.9) {Anti-PD1 resistant (Hugo 2016)};
\node[anchor=base east, font=\fs{13}{15}] at (277.5,-767.1) {TGF-β-associated ECM (Chakravarthy 2018)};
\node[anchor=base east, font=\fs{13}{15}] at (277.5,-788.4) {6-gene IFNγ signature (Ayers 2017)};
\node[anchor=base east, font=\fs{13}{15}] at (277.5,-809.6) {Expanded immune signature (Ayers 2017)};
\node[anchor=base east, font=\fs{13}{15}] at (277.5,-830.9) {Fibroblast TGFβ signature (Mariathasan 2018)};
\node[anchor=base east, font=\fs{13}{15}] at (277.5,-852.2) {ISG.RS (Joseph 2019)};
\node[anchor=base east, font=\fs{13}{15}] at (277.5,-873.4) {IFNG.GS (Joseph 2019)};
\node[anchor=base east, font=\fs{13}{15}] at (277.5,-894.7) {IPRES (Hugo 2016)};
\node[anchor=base east, font=\bfseries\itshape\fs{13}{15}, text=dred] at (277.5,-915.9) {IFGRNS (This study)};

\Cfac{283.2}{-0.82,1.18}{r x lo hi p\\ 1 0.00 -0.56 0.65 w\\ 2 0.09 -0.52 0.73 w\\ 4 -0.41 -1.01 0.17 w\\ 5 -0.47 -1.08 0.13 w\\ 7 -0.09 -0.69 0.52 w\\ 8 -0.37 -0.99 0.22 w\\ 9 -0.13 -0.73 0.47 w\\ 10 0.34 -0.26 0.95 w\\}
\Cfac{355.0}{-0.84,1.16}{r x lo hi p\\ 1 -0.17 -0.82 0.47 w\\ 2 -0.15 -0.82 0.49 w\\ 3 -0.13 -0.75 0.54 w\\ 4 -0.43 -1.08 0.22 w\\ 5 -0.90 -1.61 -0.17 r\\ 7 -0.04 -0.69 0.65 w\\ 8 -0.65 -1.35 0.06 r\\ 9 -0.04 -0.69 0.65 w\\ 10 -0.19 -0.84 0.45 w\\}
\Cfac{426.8}{-0.87,1.13}{r x lo hi p\\ 1 -0.06 -0.28 0.15 w\\ 2 -0.04 -0.26 0.17 w\\ 3 0.26 0.04 0.50 w\\ 4 -0.13 -0.34 0.11 w\\ 5 -0.22 -0.47 0.09 w\\ 6 0.00 -0.22 0.26 w\\ 7 0.11 -0.11 0.37 w\\ 8 0.04 -0.17 0.28 w\\ 9 0.13 -0.09 0.39 w\\ 10 0.30 0.09 0.56 r\\}
\Cfac{498.7}{-0.89,1.11}{r x lo hi p\\ 1 -0.22 -0.43 0.00 w\\ 2 0.09 -0.13 0.30 w\\ 3 0.39 0.17 0.69 r\\ 4 -0.28 -0.49 -0.06 w\\ 5 -0.56 -0.82 -0.30 r\\ 6 0.22 0.00 0.47 w\\ 7 -0.22 -0.43 0.00 w\\ 8 -0.26 -0.47 -0.04 w\\ 9 0.17 -0.04 0.39 w\\ 10 0.52 0.30 0.77 r\\}
\Cfac{570.5}{-0.91,1.09}{r x lo hi p\\ 1 -0.06 -0.24 0.13 w\\ 2 0.13 -0.04 0.30 w\\ 3 0.09 -0.09 0.26 w\\ 4 -0.19 -0.36 -0.02 r\\ 5 -0.13 -0.30 0.04 w\\ 6 0.23 0.06 0.40 r\\ 7 -0.04 -0.21 0.13 w\\ 8 -0.04 -0.21 0.13 w\\ 9 0.09 -0.09 0.26 w\\ 10 0.02 -0.15 0.19 w\\}
\Cfac{642.3}{-0.93,1.07}{r x lo hi p\\ 1 0.09 -0.05 0.23 w\\ 2 0.04 -0.10 0.18 w\\ 3 0.19 0.05 0.33 r\\ 4 0.02 -0.12 0.16 w\\ 5 0.06 -0.08 0.20 w\\ 6 -0.02 -0.16 0.12 w\\ 7 -0.09 -0.23 0.05 w\\ 8 0.09 -0.05 0.23 w\\ 9 -0.04 -0.18 0.10 w\\ 10 0.15 0.01 0.29 w\\}
\Cfac{714.1}{-0.95,1.05}{r x lo hi p\\ 1 0.04 -0.16 0.24 w\\ 2 0.00 -0.20 0.20 w\\ 3 -0.06 -0.26 0.14 w\\ 4 -0.30 -0.50 -0.10 r\\ 5 -0.45 -0.65 -0.25 r\\ 6 0.36 0.16 0.56 r\\ 7 0.09 -0.11 0.29 w\\ 8 -0.13 -0.33 0.07 w\\ 9 -0.11 -0.31 0.09 w\\ 10 -0.06 -0.26 0.14 w\\}
\Cfac{785.9}{-0.98,1.02}{r x lo hi p\\ 1 0.23 -1.38 2.50 w\\ 3 0.98 -0.55 2.50 w\\ 4 -0.21 -1.64 1.23 w\\ 5 0.40 -1.23 2.50 w\\ 7 0.51 -0.68 1.72 w\\ 8 0.23 -1.51 2.50 w\\ 10 -0.32 -2.20 1.19 w\\}
\Cfac{857.8}{-1,1}{r x lo hi p\\ 1 -0.23 -0.41 -0.05 w\\ 2 0.11 -0.07 0.29 w\\ 3 0.06 -0.12 0.24 w\\ 4 -0.38 -0.56 -0.20 r\\ 5 -0.40 -0.58 -0.22 r\\ 6 0.11 -0.07 0.29 w\\ 7 -0.34 -0.52 -0.16 r\\ 8 -0.32 -0.50 -0.14 r\\ 9 0.02 -0.16 0.20 w\\ 10 -0.02 -0.20 0.16 w\\}
\Cfac{929.6}{-1.02,0.98}{r x lo hi p\\ 1 -0.38 -0.91 0.11 w\\ 2 0.06 -0.45 0.57 w\\ 3 0.30 -0.23 0.83 w\\ 4 -0.89 -1.45 -0.34 r\\ 5 -0.53 -1.02 -0.02 r\\ 6 0.06 -0.45 0.57 w\\ 7 -0.68 -1.19 -0.15 r\\ 8 -0.43 -0.94 0.09 w\\ 9 0.17 -0.34 0.68 w\\ 10 0.11 -0.38 0.62 w\\}
\Cfac{1001.4}{-1.04,0.96}{r x lo hi p\\ 1 -0.21 -0.62 0.19 w\\ 2 -0.09 -0.45 0.30 w\\ 3 0.19 -0.19 0.62 w\\ 4 -0.34 -0.74 0.09 w\\ 5 -0.21 -0.62 0.21 w\\ 6 0.15 -0.23 0.57 w\\ 7 -0.11 -0.47 0.28 w\\ 8 -0.32 -0.74 0.06 w\\ 9 0.04 -0.34 0.47 w\\ 10 -0.06 -0.45 0.32 w\\}
\Cfac{1073.2}{-1.07,0.93}{r x lo hi p\\ 1 -0.04 -0.16 0.08 w\\ 2 0.06 -0.06 0.18 w\\ 3 0.11 -0.01 0.23 r\\ 4 -0.21 -0.33 -0.09 r\\ 5 -0.19 -0.31 -0.07 r\\ 6 0.09 -0.03 0.21 r\\ 7 -0.13 -0.25 -0.01 r\\ 8 -0.09 -0.21 0.03 r\\ 9 0.02 -0.10 0.14 w\\ 10 0.11 -0.01 0.23 r\\}

\draw[line width=0.7pt, fill=white] (406.8,-954.5) circle (3.6);
\node[anchor=base west, font=\fs{11}{13}] at (412,-958.5) {P > 0.1};
\draw[line width=0.7pt, fill=hrred] (460.4,-954.5) circle (3.6);
\node[anchor=base west, font=\fs{11}{13}] at (465.5,-958.5) {P < 0.1};
\node[anchor=base, font=\fs{15}{17}] at (711,-956) {Hazard ratio for PFS (95\% CI)};

%================ (D) =================
\node[anchor=base west, font=\fs{24}{28}] at (44,-988) {(D)};
\Hdr{339.3}{984}{14}{\bfseries\fs{12.5}{14}}{Hsu2021}{anti−PD1}{(HCC)}
\Hdr{447.3}{984}{14}{\bfseries\fs{12.5}{14}}{Hugo2016}{Opdivo/Keytruda}{(melanoma)}
\Hdr{555.4}{984}{14}{\bfseries\fs{12.5}{14}}{Hwang2020}{Opdivo/Keyt}{(NSCLC)}
\Hdr{663.5}{984}{14}{\bfseries\fs{12.5}{14}}{Riaz2017}{Pre-treat}{(melanoma)}
\Hdr{771.5}{984}{14}{\bfseries\fs{12.5}{14}}{}{Rose2021}{(mUC)}
\Hdr{879.6}{984}{14}{\bfseries\fs{12.5}{14}}{Rose2021}{Atezo}{(mUC)}
\Hdr{987.7}{984}{14}{\bfseries\fs{12.5}{14}}{Rose2021}{Pembro}{(mUC)}
\Hdr{1095.7}{984}{14}{\bfseries\fs{12.5}{14}}{}{}{Whole}
\node[anchor=base east, font=\fs{12.5}{14}] at (297,-1030) {No. of patients:};
\foreach \cx/\nn in {339.3/24, 447.3/24, 555.4/21, 663.5/56, 771.5/89, 879.6/34, 987.7/47, 1095.7/214}
  \node[anchor=base, font=\fs{12}{14}] at (\cx,-1030) {n=\nn};
\node[anchor=base east, font=\fs{13}{15}] at (280,-1059.3) {Nivolumab responsive (Riaz 2017)};
\node[anchor=base east, font=\fs{13}{15}] at (280,-1080.5) {Anti-PD1 resistant (Hugo 2016)};
\node[anchor=base east, font=\fs{13}{15}] at (280,-1101.7) {6-gene IFNγ signature (Ayers 2017)};
\node[anchor=base east, font=\fs{13}{15}] at (280,-1122.8) {Expanded immune signature (Ayers 2017)};
\node[anchor=base east, font=\fs{13}{15}] at (280,-1144.0) {ISG.RS (Joseph 2019)};
\node[anchor=base east, font=\fs{13}{15}] at (280,-1165.2) {IFNG.GS (Joseph 2019)};
\node[anchor=base east, font=\fs{13}{15}] at (280,-1186.4) {IPRES (Hugo 2016)};
\node[anchor=base east, font=\bfseries\itshape\fs{13}{15}, text=dred] at (280,-1207.6) {IFGRNS (This study)};
\node[anchor=base east, font=\fs{13}{15}] at (280,-1228.7) {TGF-β-associated ECM (Chakravarthy 2018)};
\node[anchor=base east, font=\fs{13}{15}] at (280,-1249.9) {Fibroblast TGFβ signature (Mariathasan 2018)};

\Dfac{289.0}{r x lo hi p\\ 1 -0.39 -1.69 0.99 w\\ 2 -0.39 -1.75 0.96 w\\ 3 -1.72 -3.10 -0.25 r\\ 4 -1.83 -3.24 -0.37 r\\ 5 -0.59 -1.92 0.76 w\\ 6 -1.30 -2.68 0.06 r\\ 7 -0.03 -1.30 1.30 w\\ 8 -0.39 -1.75 0.99 w\\}
\Dfac{397.1}{r x lo hi p\\ 1 0.03 -1.66 1.77 w\\ 2 2.76 0.54 4.00 r\\ 3 0.68 -1.10 2.48 w\\ 4 0.82 -0.99 2.62 w\\ 5 0.39 -1.32 2.14 w\\ 6 1.01 -0.76 2.82 w\\ 7 1.21 -0.56 3.01 w\\ 8 -0.14 -1.83 1.63 w\\ 9 0.54 -1.15 2.31 w\\ 10 2.03 0.03 4.00 r\\}
\Dfac{505.1}{r x lo hi p\\ 1 -0.62 -2.14 0.93 w\\ 2 -0.14 -1.66 1.44 w\\ 3 -1.24 -2.90 0.51 w\\ 4 -0.93 -2.51 0.70 w\\ 5 1.44 -0.39 3.26 w\\ 6 -0.99 -2.59 0.65 w\\ 7 -1.32 -3.07 0.39 w\\ 8 0.62 -0.93 2.15 w\\ 9 0.37 -1.30 1.98 w\\}
\Dfac{613.2}{r x lo hi p\\ 1 2.07 0.22 3.70 r\\ 2 0.98 -0.45 2.41 w\\ 3 1.01 -0.45 2.46 w\\ 4 1.54 0.03 3.11 r\\ 5 1.18 -0.31 2.69 w\\ 6 1.23 -0.31 2.77 w\\ 7 -0.59 -2.16 0.98 w\\ 8 1.37 -0.22 3.03 r\\ 9 -0.92 -2.58 0.76 w\\ 10 -0.48 -2.07 1.09 w\\}
\Dfac{721.3}{r x lo hi p\\ 1 -0.42 -1.15 0.31 w\\ 2 0.20 -0.53 0.95 w\\ 3 -0.84 -1.60 -0.03 r\\ 4 -1.09 -1.88 -0.28 r\\ 5 -0.81 -1.57 -0.03 r\\ 6 -0.84 -1.62 -0.03 r\\ 7 -0.39 -1.12 0.39 w\\ 8 0.45 -0.31 1.23 w\\ 9 -0.03 -0.76 0.73 w\\ 10 0.17 -0.59 0.90 w\\}
\Dfac{829.4}{r x lo hi p\\ 1 -1.09 -2.30 0.11 r\\ 2 -0.17 -1.34 1.04 w\\ 3 -1.40 -2.69 -0.08 r\\ 4 -1.06 -2.32 0.22 w\\ 5 -1.32 -2.61 -0.03 r\\ 6 -1.06 -2.32 0.22 w\\ 7 -0.34 -1.51 0.87 w\\ 8 0.87 -0.39 2.10 w\\ 9 0.06 -1.12 1.26 w\\ 10 0.08 -1.12 1.26 w\\}
\Dfac{937.4}{r x lo hi p\\ 1 -0.90 -1.96 0.22 w\\ 2 0.20 -0.92 1.29 w\\ 3 -0.76 -1.82 0.36 w\\ 4 -1.09 -2.18 0.00 r\\ 5 -0.39 -1.46 0.70 w\\ 6 -0.73 -1.79 0.39 w\\ 7 0.06 -1.04 1.12 w\\ 8 0.28 -0.81 1.37 w\\ 9 0.42 -0.64 1.54 w\\ 10 0.25 -0.84 1.34 w\\}
\Dfac{1045.5}{r x lo hi p\\ 1 -0.14 -0.42 0.20 w\\ 2 0.42 0.14 0.76 r\\ 3 -0.67 -0.95 -0.31 r\\ 4 -0.73 -1.09 -0.36 r\\ 5 -0.42 -0.70 -0.08 r\\ 6 -0.45 -0.73 -0.11 r\\ 7 -0.20 -0.48 0.14 w\\ 8 0.53 0.25 0.87 r\\ 9 0.08 -0.20 0.42 w\\ 10 0.17 -0.11 0.50 w\\}

\draw[line width=0.7pt, fill=white] (394.2,-1286.7) circle (3.6);
\node[anchor=base west, font=\fs{11}{13}] at (398.5,-1290.7) {P > 0.1};
\draw[line width=0.7pt, fill=hrred] (447.8,-1286.7) circle (3.6);
\node[anchor=base west, font=\fs{11}{13}] at (452.5,-1290.7) {P < 0.1};
\node[anchor=base, font=\fs{15}{17}] at (717,-1290.5) {Hazard ratio for OS (95\% CI)};

%================ (E) =================
\node[anchor=base west, font=\fs{26}{30}] at (0,-1331) {(E)};
\node[anchor=base west, font=\fs{14.3}{17}] at (32.3,-1353) {Signature};
\fill[cA] (106,-1327.3) rectangle (126.5,-1347.7);
\fill[cB] (106,-1348.3) rectangle (126.5,-1368.7);
\fill[cC] (322.7,-1327.3) rectangle (343.2,-1347.7);
\fill[cD] (322.7,-1348.3) rectangle (343.2,-1368.7);
\fill[cE] (517.2,-1327.3) rectangle (537.7,-1347.7);
\fill[cF] (517.2,-1348.3) rectangle (537.7,-1368.7);
\fill[cG] (679.5,-1327.3) rectangle (700,-1347.7);
\fill[cH] (679.5,-1348.3) rectangle (700,-1368.7);
\fill[cI] (883.4,-1327.3) rectangle (903.9,-1347.7);
\fill[cJ] (883.4,-1348.3) rectangle (903.9,-1368.7);
\node[anchor=base west, font=\bfseries\itshape\fs{13}{15}, text=dred] at (134,-1342.3) {IFGRNS (This study)};
\node[anchor=base west, font=\fs{12}{14}] at (134,-1363.3) {Nivolumab responsive (Riaz 2017)};
\node[anchor=base west, font=\fs{12}{14}] at (350,-1342.3) {6-gene IFNγ (Ayers 2017)};
\node[anchor=base west, font=\fs{12}{14}] at (350,-1363.3) {Expanded immune (Ayers 2017)};
\node[anchor=base west, font=\fs{12}{14}] at (545.5,-1342.3) {ISG.RS (Joseph 2019)};
\node[anchor=base west, font=\fs{12}{14}] at (545.5,-1363.3) {IFNG.GS (Joseph 2019)};
\node[anchor=base west, font=\fs{12}{14}] at (707,-1342.3) {Anti-PD1 resistant (Hugo 2016)};
\node[anchor=base west, font=\fs{12}{14}] at (707,-1363.3) {IPRES (Hugo 2016)};
\node[anchor=base west, font=\fs{12}{14}] at (911,-1342.3) {TGF-β-associated ECM (Chakravarthy 2018)};
\node[anchor=base west, font=\fs{12}{14}] at (911,-1363.3) {Fibroblast TGFβ signature (Mariathasan 2018)};
\node[rotate=90, font=\fs{13}{15}] at (8,-1447) {C-index};

\begin{axis}[at={(58pt,-1521pt)}, anchor=south west, scale only axis, width=1109pt, height=137.7pt,
  xmin=-0.545, xmax=11.56, ymin=0, ymax=1, axis x line*=bottom, axis y line*=left, axis on top,
  x axis line style={line width=1.8pt}, y axis line style={line width=1.2pt},
  xtick=\empty, ytick={0,0.25,0.5,0.75,1}, yticklabels={0,0.25,0.50,0.75,1.00},
  yticklabel style={font=\fs{13}{15}}, tick align=outside, major tick length=5pt,
  ytick style={line width=1.2pt, black}, clip=false]
\Bars{0.0805}{cA}{(-0.3622,0.540) (2.6378,0.576) (3.6378,0.637) (4.6378,0.513) (5.6378,0.528) (6.6378,0.528) (7.6378,0.637) (8.6378,0.535) (9.6378,0.646) (10.6378,0.477)}
\Bars{0.0805}{cB}{(-0.2817,0.487) (2.7183,0.479) (3.7183,0.450) (4.7183,0.482) (5.7183,0.492) (6.7183,0.504) (7.7183,0.579) (8.7183,0.465) (9.7183,0.416) (10.7183,0.441)}
\Bars{0.0805}{cC}{(-0.2012,0.455) (2.7988,0.465) (3.7988,0.443) (4.7988,0.453) (5.7988,0.477) (6.7988,0.438) (7.7988,0.792) (8.7988,0.443) (9.7988,0.337) (10.7988,0.475)}
\Bars{0.0805}{cD}{(-0.1207,0.448) (2.8793,0.436) (3.8793,0.416) (4.8793,0.458) (5.8793,0.482) (6.8793,0.416) (7.8793,0.637) (8.8793,0.443) (9.8793,0.356) (10.8793,0.475)}
\Bars{0.0805}{cE}{(-0.0402,0.475) (2.9598,0.516) (3.9598,0.446) (4.9598,0.489) (5.9598,0.460) (6.9598,0.518) (7.9598,0.695) (8.9598,0.458) (9.9598,0.346) (10.9598,0.504)}
\Bars{0.0805}{cF}{(0.0403,0.467) (3.0403,0.492) (4.0403,0.426) (5.0403,0.477) (6.0403,0.494) (7.0403,0.465) (8.0403,0.637) (9.0403,0.431) (10.0403,0.332) (11.0403,0.462)}
\Bars{0.0805}{cG}{(0.1208,0.518) (3.1208,0.542) (4.1208,0.540) (5.1208,0.523) (6.1208,0.504) (7.1208,0.508) (8.1208,0.714) (9.1208,0.516) (10.1208,0.472) (11.1208,0.552)}
\Bars{0.0805}{cH}{(0.2013,0.513) (3.2013,0.564) (4.2013,0.564) (5.2013,0.513) (6.2013,0.513) (7.2013,0.494) (8.2013,0.734) (9.2013,0.472) (10.2013,0.433) (11.2013,0.501)}
\Bars{0.0805}{cI}{(0.2818,0.528) (3.2818,0.586) (4.2818,0.610) (5.2818,0.513) (6.2818,0.530) (7.2818,0.494) (8.2818,0.811) (9.2818,0.506) (10.2818,0.472) (11.2818,0.559)}
\Bars{0.0805}{cJ}{(0.3623,0.518) (3.3623,0.513) (4.3623,0.525) (5.3623,0.528) (6.3623,0.492) (7.3623,0.559) (8.3623,0.637) (9.3623,0.506) (10.3623,0.479) (11.3623,0.513)}
% Hsu2021: eight signatures
\Bars{0.1006}{cA}{(0.6478,0.487)} \Bars{0.1006}{cB}{(0.7484,0.530)} \Bars{0.1006}{cC}{(0.8490,0.387)} \Bars{0.1006}{cD}{(0.9496,0.339)}
\Bars{0.1006}{cE}{(1.0502,0.433)} \Bars{0.1006}{cF}{(1.1508,0.363)} \Bars{0.1006}{cG}{(1.2514,0.487)} \Bars{0.1006}{cH}{(1.3520,0.433)}
% Hwang2020: nine signatures
\Bars{0.0894}{cA}{(1.6422,0.492)} \Bars{0.0894}{cB}{(1.7316,0.431)} \Bars{0.0894}{cC}{(1.8210,0.397)} \Bars{0.0894}{cD}{(1.9104,0.334)}
\Bars{0.0894}{cE}{(1.9998,0.421)} \Bars{0.0894}{cF}{(2.0892,0.402)} \Bars{0.0894}{cG}{(2.1786,0.523)} \Bars{0.0894}{cH}{(2.2680,0.588)} \Bars{0.0894}{cI}{(2.3574,0.433)}
\end{axis}

\Tb{107.9}{1545}{Whole} \Tn{107.9}{1565.5}{n=1165}
\Tb{199.5}{1545}{Hsu2021} \Tb{199.5}{1563.3}{anti−PD1} \Tb{199.5}{1581.7}{(HCC)} \Tn{199.5}{1601}{n=24}
\Tb{291.1}{1545}{Hwang2020} \Tb{291.1}{1563.3}{Opdiv/Keyt} \Tb{291.1}{1581.7}{(NSCLC)} \Tn{291.1}{1601}{n=21}
\Tb{382.7}{1545}{IMmotion150} \Tb{382.7}{1563.3}{Atezo} \Tb{382.7}{1581.7}{(mRCC)} \Tn{382.7}{1601}{n=86}
\Tb{474.3}{1545}{IMmotion150} \Tb{474.3}{1563.3}{Atezo+Bev} \Tb{474.3}{1581.7}{(mRCC)} \Tn{474.3}{1601}{n=88}
\Tb{565.9}{1545}{IMvigor210} \Tb{565.9}{1563.3}{Atezo} \Tb{565.9}{1581.7}{(mUC)} \Tn{565.9}{1601}{n=354}
\Tb{657.5}{1545}{JAVELIN101} \node[anchor=base,font=\bfseries\fs{13.5}{16}] at (657.5,-1563.3) {Avel+Axitinib}; \Tb{657.5}{1581.7}{(aRCC)} \Tn{657.5}{1601}{n=354}
\Tb{749.1}{1545}{POPLAR} \Tb{749.1}{1563.3}{Atezo} \Tb{749.1}{1581.7}{(NSCLC)} \Tn{749.1}{1601}{n=93}
\Tb{840.7}{1545}{Riaz2017} \Tb{840.7}{1563.3}{Pre-treat} \Tb{840.7}{1581.7}{(melanoma)} \Tn{840.7}{1601}{n=56}
\Tb{932.3}{1545}{Rose2021} \Tb{932.3}{1563.3}{(mUC)} \Tn{932.3}{1584}{n=89}
\Tb{1023.9}{1545}{Rose2021} \Tb{1023.9}{1563.3}{Atezo} \Tb{1023.9}{1581.7}{(mUC)} \Tn{1023.9}{1601}{n=34}
\Tb{1115.5}{1545}{Rose2021} \Tb{1115.5}{1563.3}{Pembro} \Tb{1115.5}{1581.7}{(mUC)} \Tn{1115.5}{1601}{n=47}

%================ F =================
\node[anchor=base west, font=\fs{23}{27}] at (1,-1618) {F};
\node[rotate=90, font=\fs{13}{15}] at (8,-1691) {C-index};
\begin{axis}[at={(58pt,-1786.7pt)}, anchor=south west, scale only axis, width=1041pt, height=175.7pt,
  xmin=-0.6, xmax=7.56, ymin=0, ymax=1, axis x line*=bottom, axis y line*=left, axis on top,
  x axis line style={line width=1.8pt}, y axis line style={line width=1.2pt},
  xtick=\empty, ytick={0,0.25,0.5,0.75,1}, yticklabels={0,0.25,0.50,0.75,1.00},
  yticklabel style={font=\fs{13}{15}}, tick align=outside, major tick length=5pt,
  ytick style={line width=1.2pt, black}, clip=false]
\Bars{0.0793}{cA}{(-0.3568,0.569) (1.6432,0.503) (3.6432,0.558) (4.6432,0.575) (5.6432,0.657) (6.6432,0.583)}
\Bars{0.0793}{cB}{(-0.2775,0.433) (1.7225,0.600) (3.7225,0.670) (4.7225,0.414) (5.7225,0.397) (6.7225,0.351)}
\Bars{0.0793}{cC}{(-0.1982,0.414) (1.8018,0.624) (3.8018,0.628) (4.8018,0.414) (5.8018,0.391) (6.8018,0.431)}
\Bars{0.0793}{cD}{(-0.1189,0.400) (1.8811,0.594) (3.8811,0.730) (4.8811,0.397) (5.8811,0.374) (6.8811,0.400)}
\Bars{0.0793}{cE}{(-0.0396,0.427) (1.9604,0.567) (3.9604,0.573) (4.9604,0.414) (5.9604,0.351) (6.9604,0.457)}
\Bars{0.0793}{cF}{(0.0397,0.410) (2.0397,0.600) (4.0397,0.725) (5.0397,0.389) (6.0397,0.336) (7.0397,0.412)}
\Bars{0.0793}{cG}{(0.1190,0.537) (2.1190,0.806) (4.1190,0.672) (5.1190,0.520) (6.1190,0.459) (7.1190,0.562)}
\Bars{0.0793}{cH}{(0.1983,0.480) (2.1983,0.700) (4.1983,0.685) (5.1983,0.452) (6.1983,0.417) (7.1983,0.501)}
\Bars{0.0793}{cI}{(0.2776,0.526) (2.2776,0.662) (4.2776,0.664) (5.2776,0.510) (6.2776,0.469) (7.2776,0.577)}
\Bars{0.0793}{cJ}{(0.3569,0.529) (2.3569,0.668) (4.3569,0.558) (5.3569,0.516) (6.3569,0.482) (7.3569,0.545)}
% Hsu2021: eight signatures
\Bars{0.0991}{cA}{(0.6532,0.435)} \Bars{0.0991}{cB}{(0.7523,0.512)} \Bars{0.0991}{cC}{(0.8514,0.334)} \Bars{0.0991}{cD}{(0.9505,0.300)}
\Bars{0.0991}{cE}{(1.0496,0.378)} \Bars{0.0991}{cF}{(1.1487,0.315)} \Bars{0.0991}{cG}{(1.2478,0.480)} \Bars{0.0991}{cH}{(1.3469,0.440)}
% Hwang2020: nine signatures
\Bars{0.0881}{cA}{(2.6476,0.634)} \Bars{0.0881}{cB}{(2.7357,0.343)} \Bars{0.0881}{cC}{(2.8238,0.380)} \Bars{0.0881}{cD}{(2.9119,0.374)}
\Bars{0.0881}{cE}{(3.0000,0.531)} \Bars{0.0881}{cF}{(3.0881,0.400)} \Bars{0.0881}{cG}{(3.1762,0.495)} \Bars{0.0881}{cH}{(3.2643,0.503)} \Bars{0.0881}{cI}{(3.3524,0.474)}
\end{axis}

\Fb{134.6}{1803.3}{Whole} \Fn{134.6}{1828}{n=214}
\Fb{262.2}{1803.3}{Hsu2021} \Fb{262.2}{1823.3}{anti−PD1} \Fb{262.2}{1843.3}{(HCC)} \Fn{262.2}{1866}{n=24}
\Fb{389.8}{1803.3}{Hugo2016} \Fb{389.8}{1823.3}{Opdi/Keyt} \Fb{389.8}{1843.3}{(melanoma)} \Fn{389.8}{1866}{n=24}
\Fb{517.4}{1803.3}{Hwang2020} \Fb{517.4}{1823.3}{Opdiv/Keyt} \Fb{517.4}{1843.3}{(NSCLC)} \Fn{517.4}{1866}{n=21}
\Fb{645.0}{1803.3}{Riaz2017} \Fb{645.0}{1823.3}{Pre-treat} \Fb{645.0}{1843.3}{(melanoma)} \Fn{645.0}{1866}{n=56}
\Fb{772.6}{1803.3}{Rose2021} \Fb{772.6}{1823.3}{(mUC)} \Fn{772.6}{1848}{n=89}
\Fb{900.2}{1803.3}{Rose2021} \Fb{900.2}{1823.3}{Atezo} \Fb{900.2}{1843.3}{(mUC)} \Fn{900.2}{1866}{n=34}
\Fb{1027.8}{1803.3}{Rose2021} \Fb{1027.8}{1823.3}{Pembro} \Fb{1027.8}{1843.3}{(mUC)} \Fn{1027.8}{1866}{n=47}
\end{tikzpicture}
\end{document}
